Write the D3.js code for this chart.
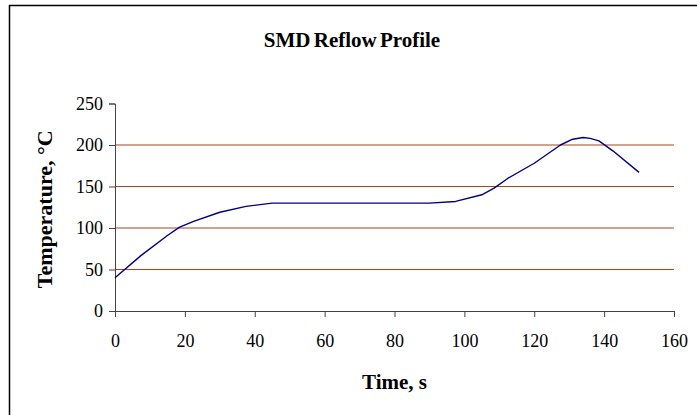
<!DOCTYPE html>
<html>
<head>
<meta charset="utf-8">
<script src="https://cdn.jsdelivr.net/npm/d3@7"></script>
<style>
  body { margin: 0; background: #fff; }
  text { font-family: "Liberation Serif", "Times New Roman", serif; fill: #000; }
</style>
</head>
<body>
<svg id="chart"></svg>
<script>
const width = 697, height = 415

// profile
const times = [0, 7.5, 15, 18.5, 22.5, 30, 37.5, 45, 52.5, 60, 67.5, 75, 82.5, 90, 97.5, 105, 108.5, 112.5, 120, 127.5, 131, 134, 136, 138.5, 142.5, 150]
const temps = [40, 67, 91, 101, 108, 119, 126, 130, 130, 130, 130, 130, 130, 130, 132, 140, 148, 160, 178, 200, 207, 209, 208, 205, 193, 167]
const xTicks = [0, 20, 40, 60, 80, 100, 120, 140, 160]
const yTicks = [0, 50, 100, 150, 200, 250]
const gridValues = [50, 100, 150, 200]

const svg = d3.select("#chart").attr("width", width).attr("height", height)

// outer frame (runs off the right and bottom edges)
svg.append("rect")
    .attr("x", 9.5).attr("y", 5.5)
    .attr("width", width).attr("height", height)
    .attr("fill", "#fff")
    .attr("stroke", "#000").attr("stroke-width", 1.5)

const x = d3.scaleLinear().domain([0, 160]).range([115, 674])
const y = d3.scaleLinear().domain([0, 250]).range([311, 103.5])

// grid lines
svg.append("g").selectAll("line")
    .data(gridValues)
    .enter()
    .append("line")
    .attr("x1", x(0)).attr("x2", x(160))
    .attr("y1", d => y(d)).attr("y2", d => y(d))
    .attr("stroke", "#a8461a")
    .attr("stroke-width", 1)

// axes
const xAxis = svg.append("g")
    .attr("transform", `translate(0,${y(0)})`)
    .call(d3.axisBottom(x).tickValues(xTicks).tickSize(6).tickPadding(17).tickFormat(d3.format("d")))
const yAxis = svg.append("g")
    .attr("transform", `translate(${x(0)},0)`)
    .call(d3.axisLeft(y).tickValues(yTicks).tickSize(6).tickPadding(6).tickFormat(d3.format("d")))

for (let ax of [xAxis, yAxis]) {
    ax.select(".domain").attr("stroke", "#444")
    ax.selectAll(".tick line").attr("stroke", "#444")
    ax.selectAll("text")
        .style("font-family", '"Liberation Serif", serif')
        .style("font-size", "18px")
        .attr("fill", "#000")
}

// the curve
const line = d3.line()
    .x((d, i) => x(times[i]))
    .y(d => y(d))
svg.append("path")
    .datum(temps)
    .attr("d", line)
    .attr("fill", "none")
    .attr("stroke", "#000080")
    .attr("stroke-width", 1.4)
    .attr("stroke-linejoin", "round")

// title and axis titles
svg.append("text")
    .attr("x", 352).attr("y", 47)
    .attr("text-anchor", "middle")
    .style("font-size", "21px").style("font-weight", "bold")
    .style("word-spacing", "-2px")
    .text("SMD Reflow Profile")

svg.append("text")
    .attr("x", (x(0) + x(160)) / 2).attr("y", 389)
    .attr("text-anchor", "middle")
    .style("font-size", "21px").style("font-weight", "bold")
    .text("Time, s")

svg.append("text")
    .attr("transform", `translate(52,${(y(0) + y(250)) / 2 + 2}) rotate(-90)`)
    .attr("text-anchor", "middle")
    .style("font-size", "22px").style("font-weight", "bold")
    .text("Temperature, °C")
</script>
</body>
</html>
